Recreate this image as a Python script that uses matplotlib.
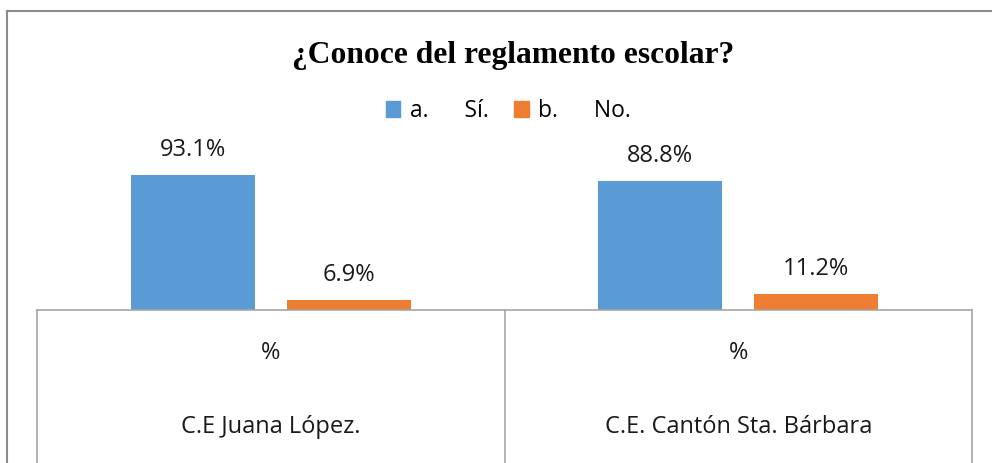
import matplotlib.pyplot as plt
from matplotlib.lines import Line2D
from matplotlib.patches import Patch
import numpy as np

plt.rcParams['font.family'] = ['Open Sans', 'DejaVu Sans']

# data
schools = ["C.E Juana López.", "C.E. Cantón Sta. Bárbara"]
sub_label = "%"
series_names = ["a.      Sí.", "b.      No."]
si_values = [93.1, 88.8]
no_values = [6.9, 11.2]
colors = ["#5B9BD5", "#ED7D31"]

W, H = 992, 463
fig = plt.figure(figsize=(W / 100, H / 100), dpi=100)

# axes placed in pixel coords: x 37..972, baseline at y=310
left, right, base, top = 37, 972, 310, 165
ax = fig.add_axes([left / W, (H - base) / H, (right - left) / W, (base - top) / H])

x = np.arange(len(schools))
bw = 0.265
off = 0.167
bars1 = ax.bar(x - off, si_values, bw, color=colors[0])
bars2 = ax.bar(x + off, no_values, bw, color=colors[1])

for bars, vals in [(bars1, si_values), (bars2, no_values)]:
    for b, v in zip(bars, vals):
        ax.annotate(f"{v:.1f}%", (b.get_x() + b.get_width() / 2, v),
                    xytext=(0, 18), textcoords="offset points",
                    ha="center", va="center", fontsize=17, color="#1a1a1a")

ax.set_xlim(-0.5, len(schools) - 0.5)
ax.set_ylim(0, 100)
ax.axis("off")

# category table below the plot
line_kw = dict(color="#a6a6a6", linewidth=1.2)
fig.add_artist(Line2D([left / W, right / W], [(H - base) / H] * 2, **line_kw))
for px in [left, (left + right) / 2, right]:
    fig.add_artist(Line2D([px / W, px / W], [0, (H - base) / H], **line_kw))

for i, name in enumerate(schools):
    cx = ax.transData.transform((i, 0))[0] / W
    fig.text(cx, 1 - 353 / H, sub_label, ha="center", va="center", fontsize=17, color="#1a1a1a")
    fig.text(cx, 1 - 427 / H, name, ha="center", va="center", fontsize=17, color="#1a1a1a")

# outer chart border (left and top)
border_kw = dict(color="#8c8c8c", linewidth=1.5)
fig.add_artist(Line2D([6.5 / W, 6.5 / W], [0, 1 - 11 / H], **border_kw))
fig.add_artist(Line2D([6.5 / W, 1], [1 - 11 / H, 1 - 11 / H], **border_kw))

fig.text(513 / W, 1 - 55 / H, "¿Conoce del reglamento escolar?", ha="center", va="center",
         fontsize=22.7, fontweight="bold", family="Liberation Serif")

handles = [Patch(color=c) for c in colors]
fig.legend(handles, series_names, loc="center", bbox_to_anchor=(508 / W, 1 - 111 / H),
           ncol=2, frameon=False, fontsize=16.5, handlelength=0.65, handleheight=0.65,
           handletextpad=0.4, columnspacing=1.1)

fig.savefig("out.png", dpi=100)
